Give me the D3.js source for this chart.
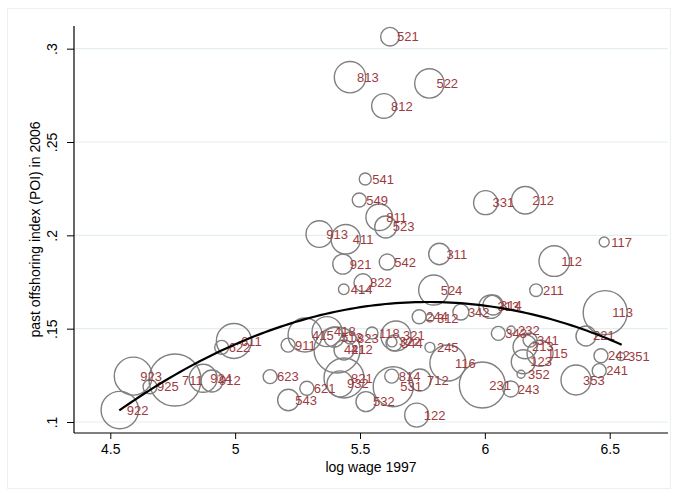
<!DOCTYPE html>
<html><head><meta charset="utf-8">
<script src="https://cdn.jsdelivr.net/npm/d3@7"></script>
<style>html,body{margin:0;padding:0;background:#fff}svg{display:block}</style>
</head><body>
<svg id="c" width="678" height="496"></svg>
<script>
// occupation codes (ISCO-88 3 digit)
const codes = ["521","813","522","812","541","549","811","523","913","411","921","542","311","822","414","524","331","212","117","112","211","113","244","312","342","313","314","343","232","341","213","115","123","352","231","243","353","241","242","351","221","116","245","712","814","531","122","532","821","932","621","543","623","911","415","418","513","823","421","412","118","321","322","344","922","923","925","711","924","912","622","611"];
// log wage 1997
const logWage = [5.620,5.460,5.778,5.596,5.521,5.497,5.577,5.603,5.337,5.443,5.431,5.609,5.818,5.512,5.435,5.795,6.003,6.162,6.478,6.278,6.205,6.482,5.737,5.780,5.904,6.023,6.033,6.054,6.105,6.181,6.161,6.221,6.154,6.145,5.990,6.104,6.365,6.458,6.465,6.545,6.405,5.852,5.780,5.740,5.627,5.633,5.727,5.524,5.436,5.420,5.287,5.213,5.140,5.212,5.280,5.368,5.396,5.460,5.408,5.436,5.548,5.644,5.628,5.636,4.538,4.592,4.659,4.759,4.872,4.907,4.946,4.995];
// past offshoring index 2006
const poi = [0.3064,0.2847,0.2814,0.2693,0.2302,0.2189,0.2097,0.2045,0.2007,0.1979,0.1846,0.1857,0.1900,0.1746,0.1711,0.1707,0.2175,0.2188,0.1964,0.1862,0.1706,0.1586,0.1564,0.1557,0.1589,0.1618,0.1627,0.1475,0.1493,0.1439,0.1403,0.1368,0.1323,0.1256,0.1198,0.1177,0.1225,0.1275,0.1355,0.1350,0.1461,0.1316,0.1400,0.1225,0.1246,0.1189,0.1037,0.1109,0.1236,0.1204,0.1181,0.1118,0.1243,0.1412,0.1466,0.1484,0.1455,0.1450,0.1386,0.1386,0.1477,0.1461,0.1429,0.1423,0.1064,0.1246,0.1189,0.1225,0.1234,0.1220,0.1400,0.1434];
// weights (employment, marker area)
const weight = [865,2465,2161,1513,360,490,1769,1210,1769,2161,1000,640,1145,810,281,2250,1440,1877,250,2341,397,4840,490,160,640,1369,1000,490,160,490,1440,1690,1440,160,5290,640,2250,490,490,160,1000,3240,250,1210,490,4000,1440,1000,4000,1690,490,1145,490,490,2890,2250,1000,360,5290,1000,360,2250,250,640,3497,3610,490,6760,1960,1210,490,3063];
// points read along the quadratic fit line of the chart
const fitX = [4.536,4.78,4.98,5.126,5.26,5.38,5.5,5.78,5.98,6.14,6.30,6.548];
const fitY = [0.1071,0.1270,0.1390,0.1470,0.1540,0.1598,0.1622,0.1644,0.1627,0.1600,0.1530,0.1412];
const xTicks = [4.5,5,5.5,6,6.5];
const yTicks = [0.1,0.15,0.2,0.25,0.3];
const yTickLabels = [".1",".15",".2",".25",".3"];

const svg = d3.select("#c");
const L=74,R=668,T=26,B=433;
const x = d3.scaleLinear().domain([4.3546,6.7335]).range([L,R]);
const y = d3.scaleLinear().domain([0.09411,0.31214]).range([B,T]);
const r = d3.scaleSqrt().domain([0,6760]).range([0,26]);
const font = "'Liberation Sans', Arial, Helvetica, sans-serif";

svg.append("rect").attr("x",7.5).attr("y",8.5).attr("width",663).attr("height",480)
  .attr("fill","#fff").attr("stroke","#eaf1f3").attr("stroke-width",1);

// gridlines
svg.append("g").selectAll("line").data(yTicks).join("line")
  .attr("x1",L).attr("x2",R).attr("y1",d=>y(d)).attr("y2",d=>y(d))
  .attr("stroke","#e4eef0").attr("stroke-width",1.2);

const data = codes.map((c,i)=>({c, x:logWage[i], y:poi[i], w:weight[i]}));

svg.append("g").selectAll("circle").data(data).join("circle")
  .attr("cx",d=>x(d.x)).attr("cy",d=>y(d.y)).attr("r",d=>r(d.w))
  .attr("fill","none").attr("stroke","#808080").attr("stroke-width",1.4);

svg.append("g").selectAll("text").data(data).join("text")
  .attr("x",d=>x(d.x)+7).attr("y",d=>y(d.y)).attr("dy","0.35em")
  .attr("font-family",font).attr("font-size",13).attr("fill","#9e3a40")
  .text(d=>d.c);

// quadratic least-squares through the read line points (smooth like Stata's qfit)
function quadFit(xs, ys){
  const n=xs.length; let s=[0,0,0,0,0], t=[0,0,0];
  for(let i=0;i<n;i++){const v=xs[i];let p=1;for(let k=0;k<5;k++){s[k]+=p;if(k<3)t[k]+=p*ys[i];p*=v;}}
  const A=[[s[0],s[1],s[2],t[0]],[s[1],s[2],s[3],t[1]],[s[2],s[3],s[4],t[2]]];
  for(let i=0;i<3;i++){for(let j=i+1;j<3;j++){const f=A[j][i]/A[i][i];for(let k=i;k<4;k++)A[j][k]-=f*A[i][k];}}
  const c=[0,0,0];
  for(let i=2;i>=0;i--){let v=A[i][3];for(let k=i+1;k<3;k++)v-=A[i][k]*c[k];c[i]=v/A[i][i];}
  return c;
}
const cf = quadFit(fitX, fitY);
const x0 = d3.min(fitX), x1 = d3.max(fitX);
const fit = d3.range(0,101).map(i=>{const v=x0+(x1-x0)*i/100;return [v, cf[0]+cf[1]*v+cf[2]*v*v];});
svg.append("path").datum(fit)
  .attr("d",d3.line().x(d=>x(d[0])).y(d=>y(d[1])))
  .attr("fill","none").attr("stroke","#000").attr("stroke-width",2.2);

// axes
const xa = svg.append("g").attr("transform",`translate(0,${B})`)
  .call(d3.axisBottom(x).tickValues(xTicks).tickFormat(d3.format("")).tickSize(6).tickPadding(5));
xa.select(".domain").attr("d",`M${L},0H${R}`).attr("stroke","#000").attr("stroke-width",1.2);
xa.selectAll(".tick line").attr("stroke","#000");
xa.selectAll(".tick text").attr("font-family",font).attr("font-size",14).attr("fill","#000");

const ya = svg.append("g").attr("transform",`translate(${L},0)`)
  .call(d3.axisLeft(y).tickValues(yTicks).tickFormat((d,i)=>yTickLabels[i]).tickSize(7).tickPadding(0));
ya.select(".domain").attr("d",`M0,${T}V${B}`).attr("stroke","#000").attr("stroke-width",1.2);
ya.selectAll(".tick line").attr("stroke","#000");
ya.selectAll(".tick text").attr("font-family",font).attr("font-size",14).attr("fill","#000")
  .attr("text-anchor","middle").attr("x",0).attr("dy",0)
  .attr("transform","translate(-21,0) rotate(-90)").attr("dominant-baseline","middle");

svg.append("text").attr("x",(L+R)/2).attr("y",467).attr("dy","0.35em").attr("text-anchor","middle")
  .attr("font-family",font).attr("font-size",14).text("log wage 1997");
svg.append("text").attr("transform",`translate(35,${(T+B)/2}) rotate(-90)`).attr("dy","0.35em")
  .attr("text-anchor","middle").attr("font-family",font).attr("font-size",14)
  .text("past offshoring index (POI) in 2006");
</script>
</body></html>
